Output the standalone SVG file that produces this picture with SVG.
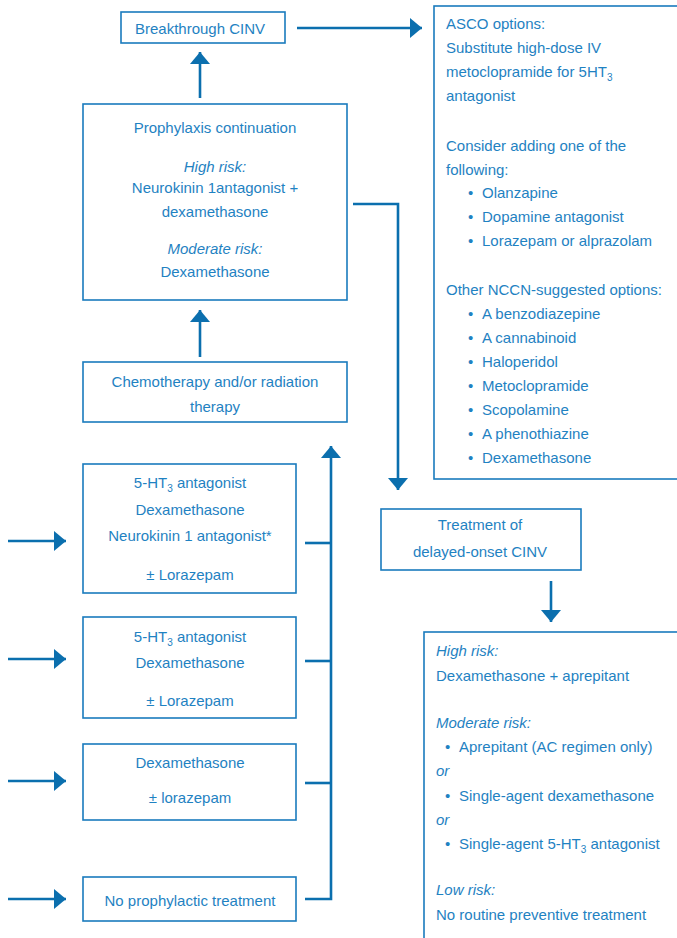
<svg xmlns="http://www.w3.org/2000/svg" width="677" height="938" viewBox="0 0 677 938">
<style>
.box{fill:#fff;stroke:#1a7bbd;stroke-width:1.6}
.t{font-family:"Liberation Sans",Arial,sans-serif;font-size:15px;fill:#1f82c2}
.c{text-anchor:middle}
.i{font-style:italic}
.ln{fill:none;stroke:#0b6fae;stroke-width:2.6}
.sub{font-size:10px}
</style>
<defs>
<marker id="ah" markerUnits="userSpaceOnUse" markerWidth="13" markerHeight="20" refX="12" refY="10" orient="auto">
<path d="M0,0 L12,10 L0,20 z" fill="#0b6fae"/>
</marker>
</defs>
<rect width="677" height="938" fill="#fff"/>
<g id="connectors">
<line class="ln" x1="297" y1="28" x2="422" y2="28" marker-end="url(#ah)"/>
<line class="ln" x1="200" y1="98" x2="200" y2="52" marker-end="url(#ah)"/>
<line class="ln" x1="200" y1="357" x2="200" y2="310" marker-end="url(#ah)"/>
<polyline class="ln" points="353,204 398,204 398,490" marker-end="url(#ah)"/>
<line class="ln" x1="551" y1="581" x2="551" y2="622" marker-end="url(#ah)"/>
<line class="ln" x1="8" y1="541" x2="66" y2="541" marker-end="url(#ah)"/>
<line class="ln" x1="8" y1="659" x2="66" y2="659" marker-end="url(#ah)"/>
<line class="ln" x1="8" y1="781" x2="66" y2="781" marker-end="url(#ah)"/>
<line class="ln" x1="8" y1="899" x2="66" y2="899" marker-end="url(#ah)"/>
<line class="ln" x1="305" y1="543" x2="331" y2="543"/>
<line class="ln" x1="305" y1="661" x2="331" y2="661"/>
<line class="ln" x1="305" y1="783" x2="331" y2="783"/>
<polyline class="ln" points="305,899 331,899 331,446" marker-end="url(#ah)"/>
</g>
<g id="breakthrough">
<rect class="box" x="121" y="12" width="164" height="31"/>
<text class="t c" x="200" y="34">Breakthrough CINV</text>
</g>
<g id="asco">
<rect class="box" x="434" y="6" width="260" height="473"/>
<text class="t" x="446" y="29">ASCO options:</text>
<text class="t" x="446" y="53">Substitute high-dose IV</text>
<text class="t" x="446" y="77">metoclopramide for 5HT<tspan class="sub" dy="4">3</tspan></text>
<text class="t" x="446" y="101">antagonist</text>
<text class="t" x="446" y="151">Consider adding one of the</text>
<text class="t" x="446" y="175">following:</text>
<text class="t" x="468" y="198">•</text><text class="t" x="482" y="198">Olanzapine</text>
<text class="t" x="468" y="222">•</text><text class="t" x="482" y="222">Dopamine antagonist</text>
<text class="t" x="468" y="246">•</text><text class="t" x="482" y="246">Lorazepam or alprazolam</text>
<text class="t" x="446" y="295">Other NCCN-suggested options:</text>
<text class="t" x="468" y="319">•</text><text class="t" x="482" y="319">A benzodiazepine</text>
<text class="t" x="468" y="343">•</text><text class="t" x="482" y="343">A cannabinoid</text>
<text class="t" x="468" y="367">•</text><text class="t" x="482" y="367">Haloperidol</text>
<text class="t" x="468" y="391">•</text><text class="t" x="482" y="391">Metoclopramide</text>
<text class="t" x="468" y="415">•</text><text class="t" x="482" y="415">Scopolamine</text>
<text class="t" x="468" y="439">•</text><text class="t" x="482" y="439">A phenothiazine</text>
<text class="t" x="468" y="463">•</text><text class="t" x="482" y="463">Dexamethasone</text>
</g>
<g id="prophylaxis">
<rect class="box" x="83" y="104" width="264" height="196"/>
<text class="t c" x="215" y="133">Prophylaxis continuation</text>
<text class="t c i" x="215" y="172">High risk:</text>
<text class="t c" x="215" y="193">Neurokinin 1antagonist +</text>
<text class="t c" x="215" y="217">dexamethasone</text>
<text class="t c i" x="215" y="254">Moderate risk:</text>
<text class="t c" x="215" y="277">Dexamethasone</text>
</g>
<g id="chemo">
<rect class="box" x="83" y="362" width="264" height="60"/>
<text class="t c" x="215" y="387">Chemotherapy and/or radiation</text>
<text class="t c" x="215" y="412">therapy</text>
</g>
<g id="high-prophylaxis">
<rect class="box" x="83" y="464" width="213" height="129"/>
<text class="t c" x="190" y="488">5-HT<tspan class="sub" dy="4">3</tspan><tspan dy="-4"> antagonist</tspan></text>
<text class="t c" x="190" y="515">Dexamethasone</text>
<text class="t c" x="190" y="541">Neurokinin 1 antagonist*</text>
<text class="t c" x="190" y="580">± Lorazepam</text>
</g>
<g id="moderate-prophylaxis">
<rect class="box" x="83" y="617" width="213" height="101"/>
<text class="t c" x="190" y="642">5-HT<tspan class="sub" dy="4">3</tspan><tspan dy="-4"> antagonist</tspan></text>
<text class="t c" x="190" y="668">Dexamethasone</text>
<text class="t c" x="190" y="706">± Lorazepam</text>
</g>
<g id="low-prophylaxis">
<rect class="box" x="83" y="744" width="213" height="76"/>
<text class="t c" x="190" y="768">Dexamethasone</text>
<text class="t c" x="190" y="803">± lorazepam</text>
</g>
<g id="no-prophylaxis">
<rect class="box" x="83" y="877" width="213" height="44"/>
<text class="t c" x="190" y="906">No prophylactic treatment</text>
</g>
<g id="delayed">
<rect class="box" x="381" y="509" width="200" height="61"/>
<text class="t c" x="480" y="530">Treatment of</text>
<text class="t c" x="480" y="557">delayed-onset CINV</text>
</g>
<g id="delayed-options">
<rect class="box" x="424" y="632" width="270" height="320"/>
<text class="t i" x="436" y="656">High risk:</text>
<text class="t" x="436" y="681">Dexamethasone + aprepitant</text>
<text class="t i" x="436" y="728">Moderate risk:</text>
<text class="t" x="445" y="752">•</text><text class="t" x="459" y="752">Aprepitant (AC regimen only)</text>
<text class="t i" x="436" y="776">or</text>
<text class="t" x="445" y="801">•</text><text class="t" x="459" y="801">Single-agent dexamethasone</text>
<text class="t i" x="436" y="825">or</text>
<text class="t" x="445" y="849">•</text><text class="t" x="459" y="849">Single-agent 5-HT<tspan class="sub" dy="4">3</tspan><tspan dy="-4"> antagonist</tspan></text>
<text class="t i" x="436" y="895">Low risk:</text>
<text class="t" x="436" y="920">No routine preventive treatment</text>
</g>
</svg>
